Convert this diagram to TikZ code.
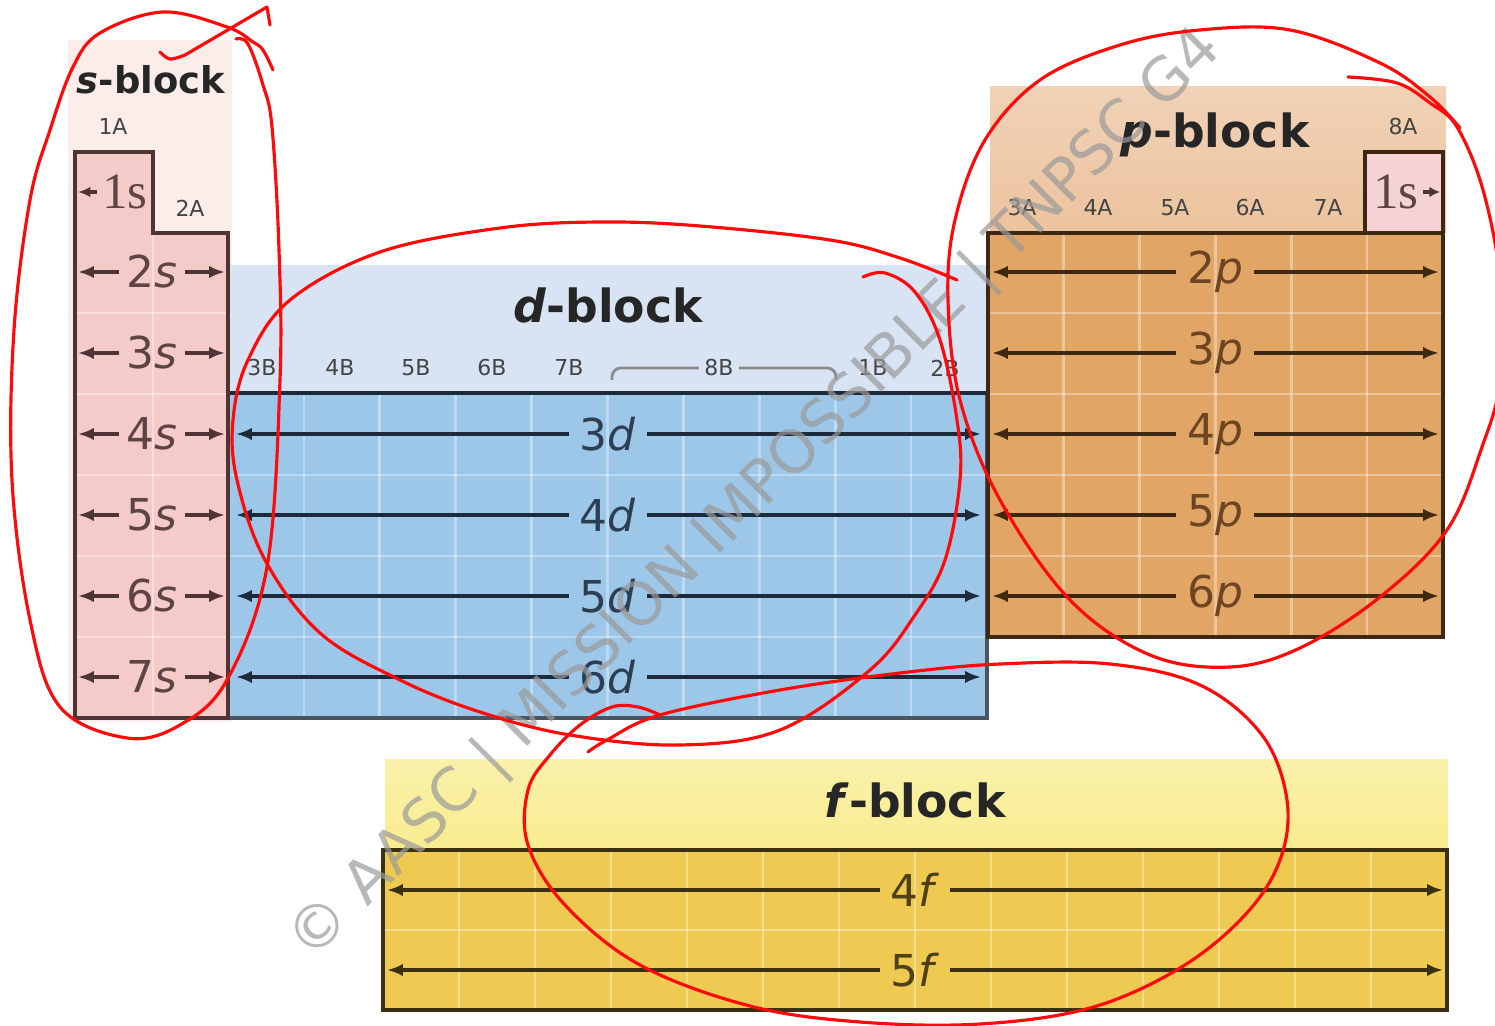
\documentclass[tikz,border=0pt]{standalone}
\usepackage{fontspec}
\setmainfont{DejaVu Sans}
\newfontfamily\orbserif{Liberation Serif}
\usetikzlibrary{arrows.meta, positioning, calc}
\definecolor{sbg}{HTML}{FBEEEA}
\definecolor{spink}{HTML}{F5CBC9}
\definecolor{sline}{HTML}{4E3434}
\definecolor{stext}{HTML}{5E4444}
\definecolor{dhead}{HTML}{D8E3F3}
\definecolor{dblue}{HTML}{9CC7E8}
\definecolor{dline}{HTML}{1C2A3A}
\definecolor{dtext}{HTML}{2E3E52}
\definecolor{phead}{HTML}{ECC39E}
\definecolor{porange}{HTML}{E1A566}
\definecolor{pline}{HTML}{3F2812}
\definecolor{ptext}{HTML}{6E4522}
\definecolor{hpink}{HTML}{F4D2D6}
\definecolor{fhead}{HTML}{F8EC8E}
\definecolor{fgold}{HTML}{EECA52}
\definecolor{fline}{HTML}{3A3010}
\definecolor{ftext}{HTML}{4E4018}
\definecolor{grouptext}{HTML}{444444}
\definecolor{markgray}{HTML}{9A9A9A}
\definecolor{penred}{HTML}{FF0A0A}

\begin{document}
\begin{tikzpicture}[x=0.02cm, y=-0.02cm,
  blocktitle/.style={font=\fontsize{26}{30}\selectfont\bfseries, text=black!85},
  grp/.style={font=\fontsize{12.5}{14}\selectfont, text=grouptext, inner sep=3pt},
  orb/.style={font=\fontsize{25}{28}\selectfont, inner sep=6pt},
  orbarrow/.style={-{Latex[length=9pt,width=7pt]}, line width=1.8pt},
  cellline/.style={white, opacity=0.35, line width=1.5pt},
  redpen/.style={penred, line width=1.8pt, line cap=round, line join=round},
]
\useasboundingbox (0,0) rectangle (1495,1026);
\fill[white] (0,0) rectangle (1495,1026);

% backgrounds
\fill[sbg] (68,40) rectangle (232,722);
\fill[dhead] (230,265) rectangle (986,393);
\shade[top color=phead!75, bottom color=phead] (990,87) rectangle (1446,233);
\shade[top color=fhead!75, bottom color=fhead] (385,760) rectangle (1448,850);

% main blocks
\fill[spink] (75,152) -- (153,152) -- (153,233) -- (228,233) -- (228,718) -- (75,718) -- cycle;
\fill[dblue] (228,393) rectangle (987,718);
\fill[porange] (988,233) rectangle (1443,637);
\fill[hpink] (1365,152) rectangle (1443,233);
\fill[fgold] (383,850) rectangle (1447,1010);

% cells
\draw[cellline] (153,233) -- (153,718);
\foreach \y in {313,394,475,556,637} \draw[cellline] (75,\y) -- (228,\y);
\foreach \k in {1,...,9} \draw[cellline] (228+75.9*\k,393) -- (228+75.9*\k,718);
\foreach \y in {475,556,637} \draw[cellline] (228,\y) -- (987,\y);
\foreach \k in {1,...,5} \draw[cellline] (988+75.8*\k,233) -- (988+75.8*\k,637);
\foreach \y in {313,394,475,556} \draw[cellline] (988,\y) -- (1443,\y);
\foreach \k in {1,...,13} \draw[cellline] (383+76*\k,850) -- (383+76*\k,1010);
\draw[cellline] (383,930) -- (1447,930);

% outlines
\draw[dline!80, line width=2pt] (228,393) rectangle (987,718);
\draw[dline, line width=2.5pt] (228,393) -- (987,393);
\draw[sline, line width=2pt] (75,152) -- (153,152) -- (153,233) -- (228,233) -- (228,718) -- (75,718) -- cycle;
\draw[pline, line width=2pt] (988,233) rectangle (1443,637);
\draw[pline, line width=2pt] (1365,152) rectangle (1443,233);
\draw[fline, line width=2pt] (383,850) rectangle (1447,1010);

% titles and groups
\node[blocktitle, font=\fontsize{21}{24}\selectfont\bfseries] (stitle) at (151,80) {\textit{s}-block};
\node[blocktitle] (dtitle) at (608,305) {\textit{d}-block};
\node[blocktitle] (ptitle) at (1215,135) {\textit{p}-block};
\node[blocktitle] (ftitle) at (915,800) {\textit{f}-block};
\node[grp] (g1A) at (113,127) {1A};
\node[grp] (g2A) at (190,208) {2A};
\foreach \g/\x in {3B/262,4B/340,5B/416,6B/492,7B/569,8B/719,1B/873,2B/945}
  \node[grp] (g\g) at (\x,368) {\g};
\foreach \g/\x in {3A/1022,4A/1098,5A/1175,6A/1250,7A/1328}
  \node[grp] (g\g) at (\x,208) {\g};
\node[grp] (g8A) at (1403,127) {8A};
\coordinate (b8l) at (612,380);
\coordinate (b8r) at (836,380);
\draw[black!45, line width=1.6pt, rounded corners=5pt] (b8l) |- (g8B.west);
\draw[black!45, line width=1.6pt, rounded corners=5pt] (b8r) |- (g8B.east);

% s rows
\node[orb, font=\orbserif\fontsize{29}{32}\selectfont, text=stext, inner sep=3pt] (s1) at (125,192) {1s};
\coordinate (sl1) at (78,192);
\draw[orbarrow, sline, -{Latex[length=7pt,width=6pt]}] (s1) -- (sl1);
\foreach \n/\y in {2/272,3/353,4/434,5/515,6/596,7/677}{
  \node[orb, inner sep=4pt, text=stext] (s\n) at (152,\y) {\n\textit{s}};
  \coordinate (sl\n) at (78,\y);
  \coordinate (sr\n) at (225,\y);
  \draw[orbarrow, sline] (s\n) -- (sl\n);
  \draw[orbarrow, sline] (s\n) -- (sr\n);
}
\node[orb, font=\orbserif\fontsize{29}{32}\selectfont, text=stext, inner sep=2pt] (h1) at (1396,192) {1s};
\coordinate (hr1) at (1440,192);
\draw[orbarrow, sline, -{Latex[length=6pt,width=6pt]}] (h1) -- (hr1);

% d rows
\foreach \n/\y in {3/434,4/515,5/596,6/677}{
  \node[orb, text=dtext] (d\n) at (608,\y) {\n\textit{d}};
  \coordinate (dl\n) at (236,\y);
  \coordinate (dr\n) at (981,\y);
  \draw[orbarrow, dline] (d\n) -- (dl\n);
  \draw[orbarrow, dline] (d\n) -- (dr\n);
}

% p rows
\foreach \n/\y in {2/272,3/353,4/434,5/515,6/596}{
  \node[orb, text=ptext] (p\n) at (1215,\y) {\n\textit{p}};
  \coordinate (pl\n) at (992,\y);
  \coordinate (pr\n) at (1439,\y);
  \draw[orbarrow, pline] (p\n) -- (pl\n);
  \draw[orbarrow, pline] (p\n) -- (pr\n);
}

% f rows
\foreach \n/\y in {4/890,5/970}{
  \node[orb, text=ftext] (f\n) at (915,\y) {\n\textit{f}};
  \coordinate (fl\n) at (387,\y);
  \coordinate (fr\n) at (1443,\y);
  \draw[orbarrow, fline] (f\n) -- (fl\n);
  \draw[orbarrow, fline] (f\n) -- (fr\n);
}

% watermark
\node[rotate=45, text=markgray, opacity=0.7, font=\fontsize{34}{38}\selectfont] (mark) at (756,496) {© AASC | MISSION IMPOSSIBLE | TNPSC G4};

% red marks
\draw[redpen] plot[smooth, tension=0.6] coordinates {(236,39) (248,44) (263,85) (272,127) (279,250) (280,380) (267,567) (227,680) (180,725) (127,738) (60,707) (30,620) (12,480) (14,330) (30,200) (50,130) (73,67) (100,33) (163,12) (227,27) (253,42) (263,50) (273,70)};
\draw[redpen] plot[smooth, tension=0.6] coordinates {(160,52) (170,59) (185,55)} -- (267,7) -- (270,25);
\draw[redpen] plot[smooth, tension=0.6] coordinates {(863,277) (885,273) (915,292) (940,340) (957,420) (960,480) (945,560) (915,615) (870,670) (780,730) (680,745) (570,735) (480,712) (400,680) (320,633) (265,560) (237,480) (233,420) (248,360) (290,300) (380,252) (500,228) (600,222) (700,226) (830,240) (900,258) (957,280)};
\draw[redpen] plot[smooth, tension=0.6] coordinates {(1348,77) (1397,83) (1430,103) (1457,127) (1483,190) (1500,280) (1500,380) (1482,447) (1447,530) (1380,597) (1300,648) (1230,667) (1150,655) (1070,600) (1000,500) (960,400) (948,300) (955,220) (985,140) (1040,80) (1120,45) (1200,30) (1290,30) (1380,63) (1430,97) (1460,128)};
\draw[redpen] plot[smooth, tension=0.6] coordinates {(588,752) (607,740) (660,715) (780,690) (900,673) (1000,664) (1110,664) (1200,685) (1262,735) (1287,800) (1280,860) (1245,915) (1180,968) (1090,1008) (980,1024) (860,1022) (750,1006) (640,965) (565,905) (528,845) (528,790) (550,755) (580,725) (612,707) (638,707) (660,715)};
\end{tikzpicture}
\end{document}
